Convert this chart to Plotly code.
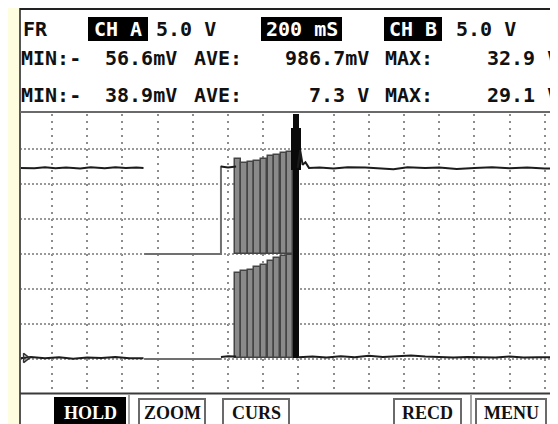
import plotly.graph_objects as go

W, H = 558, 424

# ---------------- data (screen divisions; 200 mS/div, 5.0 V/div) ----------------
# upper channel
upA_left_x = [-0.91, -0.5, -0.2, 0.1, 0.4, 0.8, 1.1, 1.5, 1.8, 2.1, 2.4, 2.6]
upA_left_y = [6.46, 6.45, 6.48, 6.45, 6.47, 6.44, 6.48, 6.45, 6.48, 6.46, 6.47, 6.46]
upA_mem_x = [2.62, 4.80, 4.80]
upA_mem_y = [4.00, 4.00, 6.52]
upA_mid_x = [4.80, 5.00, 5.23]
upA_mid_y = [6.50, 6.47, 6.50]
upA_right_x = [6.98, 7.05, 7.12, 7.2, 7.3, 7.6, 8.0, 8.4, 8.9, 9.3, 9.7, 10.1, 10.6, 11.0, 11.5, 12.0, 12.5, 13.0, 13.5, 14.0, 14.6]
upA_right_y = [6.46, 6.97, 6.55, 6.62, 6.46, 6.47, 6.44, 6.48, 6.47, 6.45, 6.42, 6.48, 6.46, 6.47, 6.43, 6.46, 6.48, 6.45, 6.47, 6.44, 6.46]

# lower channel
loB_left_x = [-0.91, -0.6, -0.2, 0.2, 0.6, 1.0, 1.4, 1.8, 2.2, 2.6]
loB_left_y = [1.02, 1.06, 1.02, 1.05, 1.01, 1.04, 1.03, 1.06, 1.02, 1.02]
loB_mem_x = [2.62, 4.80]
loB_mem_y = [1.00, 1.00]
loB_mid_x = [4.80, 5.0, 5.23]
loB_mid_y = [1.06, 1.08, 1.07]
loB_right_x = [7.0, 7.4, 7.8, 8.2, 8.6, 9.0, 9.4, 9.8, 10.2, 10.6, 11.0, 11.4, 11.8, 12.2, 12.6, 13.0, 13.4, 13.8, 14.2, 14.6]
loB_right_y = [1.05, 1.07, 1.04, 1.08, 1.05, 1.09, 1.06, 1.08, 1.10, 1.07, 1.05, 1.04, 1.06, 1.05, 1.04, 1.07, 1.04, 1.05, 1.06, 1.05]

# burst pulses
burst_x = [5.28, 5.47, 5.65, 5.84, 6.02, 6.21, 6.39, 6.58, 6.76]
burst_up_top = [6.71, 6.60, 6.63, 6.66, 6.71, 6.80, 6.83, 6.89, 6.91]
burst_up_base = 4.0
burst_lo_top = [3.46, 3.51, 3.54, 3.63, 3.69, 3.80, 3.89, 3.94, 3.97]
burst_lo_base = 1.03

spike_x = [6.93, 6.93]
spike_top = [8.0, 7.6]
spike_base = [1.03, 6.4]
spike_w = [0.17, 0.26]

# texts
row1 = ["FR", "CH A", "5.0 V", "200 mS", "CH B", "5.0 V"]
row2 = ["MIN:-", "56.6mV", "AVE:", "986.7mV", "MAX:", "32.9 V"]
row3 = ["MIN:-", "38.9mV", "AVE:", "7.3 V", "MAX:", "29.1 V"]
buttons = ["HOLD", "ZOOM", "CURS", "RECD", "MENU"]

# ---------------- figure ----------------
X0, X1 = (12 - 44) / 35.2, (558 - 44) / 35.2
DARK = "#1c1c1c"
GREY = "#707070"

fig = go.Figure()

def line(x, y, color=DARK, width=2):
    fig.add_trace(go.Scatter(x=x, y=y, mode="lines", line=dict(color=color, width=width),
                             hoverinfo="skip", cliponaxis=True))

fig.add_trace(go.Bar(x=burst_x, y=[t - burst_up_base for t in burst_up_top], base=burst_up_base,
                     width=0.175, marker=dict(color="#8a8a8a", line=dict(color="#444", width=1.5))))
fig.add_trace(go.Bar(x=burst_x, y=[t - burst_lo_base for t in burst_lo_top], base=burst_lo_base,
                     width=0.175, marker=dict(color="#8a8a8a", line=dict(color="#444", width=1.5))))
fig.add_trace(go.Bar(x=spike_x, y=[t - b for t, b in zip(spike_top, spike_base)], base=spike_base,
                     width=spike_w, marker=dict(color="#0a0a0a", line=dict(width=0))))

line(upA_left_x, upA_left_y)
line(upA_mem_x, upA_mem_y, GREY, 2)
line(upA_mid_x, upA_mid_y)
line(upA_right_x, upA_right_y)
line(loB_left_x, loB_left_y)
line(loB_mem_x, loB_mem_y, GREY, 2)
line(loB_mid_x, loB_mid_y)
line(loB_right_x, loB_right_y)

fig.add_trace(go.Scatter(x=[-0.75], y=[1.03], mode="markers",
                         marker=dict(symbol="triangle-right-open", size=8, color="#333",
                                     line=dict(width=1.5, color="#333")), cliponaxis=False))

def px(x):
    return x / W

def py(y):
    return 1 - y / H

shapes = []
def rect(x0, y0, x1, y1, fill=None, lc=None, lw=0, layer="below"):
    shapes.append(dict(type="rect", xref="paper", yref="paper", x0=px(x0), x1=px(x1),
                       y0=py(y1), y1=py(y0), fillcolor=fill or "rgba(0,0,0,0)",
                       line=dict(color=lc or "rgba(0,0,0,0)", width=lw), layer=layer))
def hline(x0, x1, y, color, w):
    shapes.append(dict(type="line", xref="paper", yref="paper", x0=px(x0), x1=px(x1),
                       y0=py(y), y1=py(y), line=dict(color=color, width=w), layer="above"))
def vline(x, y0, y1, color, w):
    shapes.append(dict(type="line", xref="paper", yref="paper", x0=px(x), x1=px(x),
                       y0=py(y0), y1=py(y1), line=dict(color=color, width=w), layer="above"))

# screen background
rect(12, 0, 558, 419, fill="white")
vline(12, 0, 419, "#555", 2)
hline(12, 558, 1, "#222", 2)
hline(12, 558, 104, "#6a6a6a", 2)
hline(12, 558, 385.5, "#3a3a3a", 2)

# header inverted boxes
rect(80, 9, 140, 33, fill="black", layer="above")
rect(253, 9, 334, 33, fill="black", layer="above")
rect(376, 9, 434, 33, fill="black", layer="above")

# buttons
rect(46, 389, 118, 419, fill="black", layer="above")
vline(121, 387, 419, "#888", 1.5)
rect(131, 391, 197, 418, lc="#6a6a6a", lw=2, layer="above")
rect(215, 391, 281, 418, lc="#6a6a6a", lw=2, layer="above")
rect(386, 391, 453, 418, lc="#6a6a6a", lw=2, layer="above")
vline(463, 387, 419, "#888", 1.5)
rect(468, 391, 538, 418, lc="#6a6a6a", lw=2, layer="above")

annotations = []
MONO = "DejaVu Sans Mono"
def txt(s, x, y, anchor="left", color="#111", size=20, family=MONO):
    annotations.append(dict(text="<b>%s</b>" % s, x=px(x), y=py(y), xref="paper", yref="paper",
                            xanchor=anchor, yanchor="middle", showarrow=False,
                            font=dict(family=family, size=size, color=color)))

# row 1
txt(row1[0], 13, 21)
txt(row1[1], 110, 21, "center", "white")
txt(row1[2], 146, 21)
txt(row1[3], 293.5, 21, "center", "white")
txt(row1[4], 405, 21, "center", "white")
txt(row1[5], 446, 21)
# row 2
txt(row2[0], 11, 50)
txt(row2[1], 95, 50)
txt(row2[2], 184, 50)
txt(row2[3], 363, 50, "right")
txt(row2[4], 375, 50)
txt(row2[5], 553, 50, "right")
# row 3
txt(row3[0], 11, 87)
txt(row3[1], 95, 87)
txt(row3[2], 184, 87)
txt(row3[3], 363, 87, "right")
txt(row3[4], 375, 87)
txt(row3[5], 553, 87, "right")

SERIF = "Liberation Serif"
btn_cx = [82, 164, 248, 419.5, 503]
for i, b in enumerate(buttons):
    txt(b, btn_cx[i], 404.5, "center", "white" if i == 0 else "#111", 18, SERIF)

fig.update_layout(
    width=W, height=H, margin=dict(l=0, r=0, t=0, b=0),
    paper_bgcolor="#fffde0", plot_bgcolor="white", showlegend=False,
    barmode="overlay", bargap=0,
    shapes=shapes, annotations=annotations,
    xaxis=dict(range=[X0, X1], domain=[12 / W, 1], tickvals=list(range(15)), showticklabels=False,
               ticks="", showgrid=True, gridcolor="#8c8c8c", griddash="2px,5px", gridwidth=1.5,
               zeroline=False, showline=False, fixedrange=True),
    yaxis=dict(range=[0, 8], domain=[(H - 386) / H, (H - 106) / H], tickvals=list(range(1, 8)),
               showticklabels=False, ticks="", showgrid=True, gridcolor="#999999",
               griddash="2px,2px", gridwidth=1.5, zeroline=False, showline=False, fixedrange=True),
)

fig.write_html("out.html")
